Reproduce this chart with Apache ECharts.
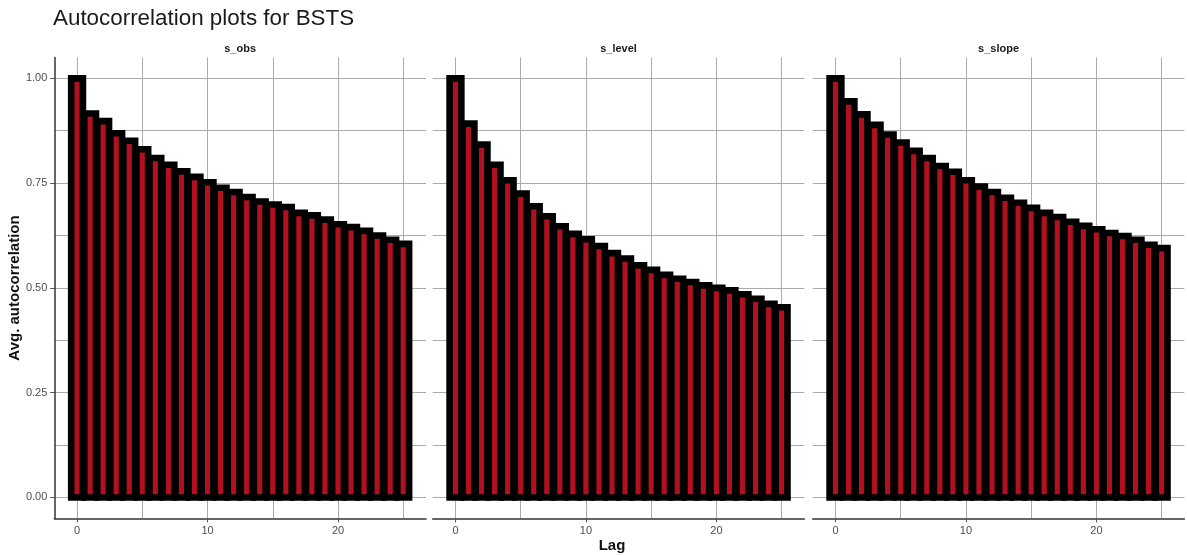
<!DOCTYPE html>
<html>
<head>
<meta charset="utf-8">
<script src="https://cdn.jsdelivr.net/npm/echarts@6/dist/echarts.min.js"></script>
<style>
html,body{margin:0;padding:0;background:#fff;}
#chart{width:1187px;height:556px;}
</style>
</head>
<body>
<div id="chart"></div>
<script>
// ---- data ----
const lags = [0,1,2,3,4,5,6,7,8,9,10,11,12,13,14,15,16,17,18,19,20,21,22,23,24,25];
const panelNames = ['s_obs', 's_level', 's_slope'];
const sObs   = [1.000,0.916,0.898,0.869,0.851,0.831,0.810,0.794,0.778,0.765,0.752,0.739,0.729,0.717,0.706,0.699,0.693,0.679,0.673,0.663,0.652,0.645,0.636,0.625,0.615,0.605];
const sLevel = [1.000,0.892,0.842,0.794,0.757,0.725,0.695,0.671,0.647,0.629,0.616,0.600,0.583,0.570,0.554,0.543,0.531,0.522,0.514,0.506,0.500,0.494,0.485,0.474,0.462,0.454];
const sSlope = [1.000,0.945,0.914,0.889,0.866,0.847,0.827,0.810,0.791,0.777,0.757,0.742,0.729,0.715,0.703,0.691,0.679,0.669,0.658,0.648,0.640,0.631,0.624,0.615,0.603,0.595];
const yTicks = [0, 0.25, 0.5, 0.75, 1];
const yMinor = [0.125, 0.375, 0.625, 0.875];
const xTicks = [0, 10, 20];
const xMinor = [5, 15, 25];
const titleText = 'Autocorrelation plots for BSTS';
const xTitle = 'Lag';
const yTitle = 'Avg. autocorrelation';

// ---- layout ----
const FONT = 'Liberation Sans, Arial, sans-serif';
const panelLefts = [54.3, 432.7, 812.7];
const panelW = 371.7, panelTop = 57.4, panelH = 461;
const xMin = -1.745, xMax = 26.745, yMin = -0.05, yMax = 1.05;
const gridColor = '#ababab';
const red = '#b0101f';
const barFrac = 0.9;
const strokeW = 6.6;
const seriesVals = [sObs, sLevel, sSlope];

const grids = [], xAxes = [], yAxes = [], series = [], graphics = [];
panelLefts.forEach((left, g) => {
  grids.push({left: left, top: panelTop, width: panelW, height: panelH, containLabel: false});
  xAxes.push({
    gridIndex: g, type: 'value', min: xMin, max: xMax, position: 'bottom',
    axisLine: {show: true, onZero: false, lineStyle: {color: '#333', width: 1.5}},
    axisTick: {show: true, length: 4, customValues: xTicks, lineStyle: {color: '#555', width: 1}},
    axisLabel: {show: true, customValues: xTicks, margin: 7, color: '#4d4d4d', fontSize: 11, fontFamily: FONT},
    splitLine: {show: true, lineStyle: {color: gridColor, width: 1}}
  });
  xAxes.push({
    gridIndex: g, type: 'value', min: xMin, max: xMax, position: 'bottom',
    axisLine: {show: false, onZero: false},
    axisTick: {show: false, customValues: xMinor},
    axisLabel: {show: false, customValues: xMinor},
    splitLine: {show: true, lineStyle: {color: gridColor, width: 1}}
  });
  yAxes.push({
    gridIndex: g, type: 'value', min: yMin, max: yMax, position: 'left',
    axisLine: {show: g === 0, onZero: false, lineStyle: {color: '#333', width: 1.5}},
    axisTick: {show: g === 0, length: 4, customValues: yTicks, lineStyle: {color: '#555', width: 1}},
    axisLabel: {show: g === 0, customValues: yTicks, margin: 7, color: '#4d4d4d', fontSize: 11, fontFamily: FONT,
      formatter: v => Number(v).toFixed(2)},
    splitLine: {show: true, lineStyle: {color: gridColor, width: 1}}
  });
  yAxes.push({
    gridIndex: g, type: 'value', min: yMin, max: yMax, position: 'left',
    axisLine: {show: false, onZero: false},
    axisTick: {show: false, customValues: yMinor},
    axisLabel: {show: false, customValues: yMinor},
    splitLine: {show: true, lineStyle: {color: gridColor, width: 1}}
  });
  const vals = seriesVals[g];
  series.push({
    type: 'custom', name: panelNames[g],
    xAxisIndex: 2 * g, yAxisIndex: 2 * g,
    encode: {x: 0, y: 1},
    data: lags.map((l, i) => [l, vals[i]]).reverse(),
    renderItem: function (params, api) {
      const x = api.value(0), v = api.value(1);
      const top = api.coord([x, v]);
      const bot = api.coord([x, 0]);
      const w = api.size([barFrac, 0])[0];
      return {
        type: 'rect',
        shape: {x: top[0] - w / 2, y: top[1], width: w, height: bot[1] - top[1]},
        style: {fill: red, stroke: '#000', lineWidth: strokeW, lineJoin: 'miter'}
      };
    },
    z: 3
  });
  graphics.push({
    type: 'text',
    x: left + panelW / 2, y: 49,
    style: {text: panelNames[g], fill: '#1a1a1a', font: 'bold 11px ' + FONT,
      align: 'center', verticalAlign: 'middle', textAlign: 'center', textVerticalAlign: 'middle'}
  });
});

graphics.push({
  type: 'text', x: 53, y: 19,
  style: {text: titleText, fill: '#1a1a1a', font: '22.4px ' + FONT,
    align: 'left', verticalAlign: 'middle', textAlign: 'left', textVerticalAlign: 'middle'}
});
graphics.push({
  type: 'text', x: 612, y: 546,
  style: {text: xTitle, fill: '#111', font: 'bold 15px ' + FONT,
    align: 'center', verticalAlign: 'middle', textAlign: 'center', textVerticalAlign: 'middle'}
});
graphics.push({
  type: 'text', x: 15, y: 288, rotation: Math.PI / 2,
  style: {text: yTitle, fill: '#111', font: 'bold 15px ' + FONT,
    align: 'center', verticalAlign: 'middle', textAlign: 'center', textVerticalAlign: 'middle'}
});

const chart = echarts.init(document.getElementById('chart'), null, {renderer: 'canvas'});
chart.setOption({
  animation: false,
  backgroundColor: '#ffffff',
  grid: grids,
  xAxis: xAxes,
  yAxis: yAxes,
  series: series,
  graphic: graphics
});
</script>
</body>
</html>
